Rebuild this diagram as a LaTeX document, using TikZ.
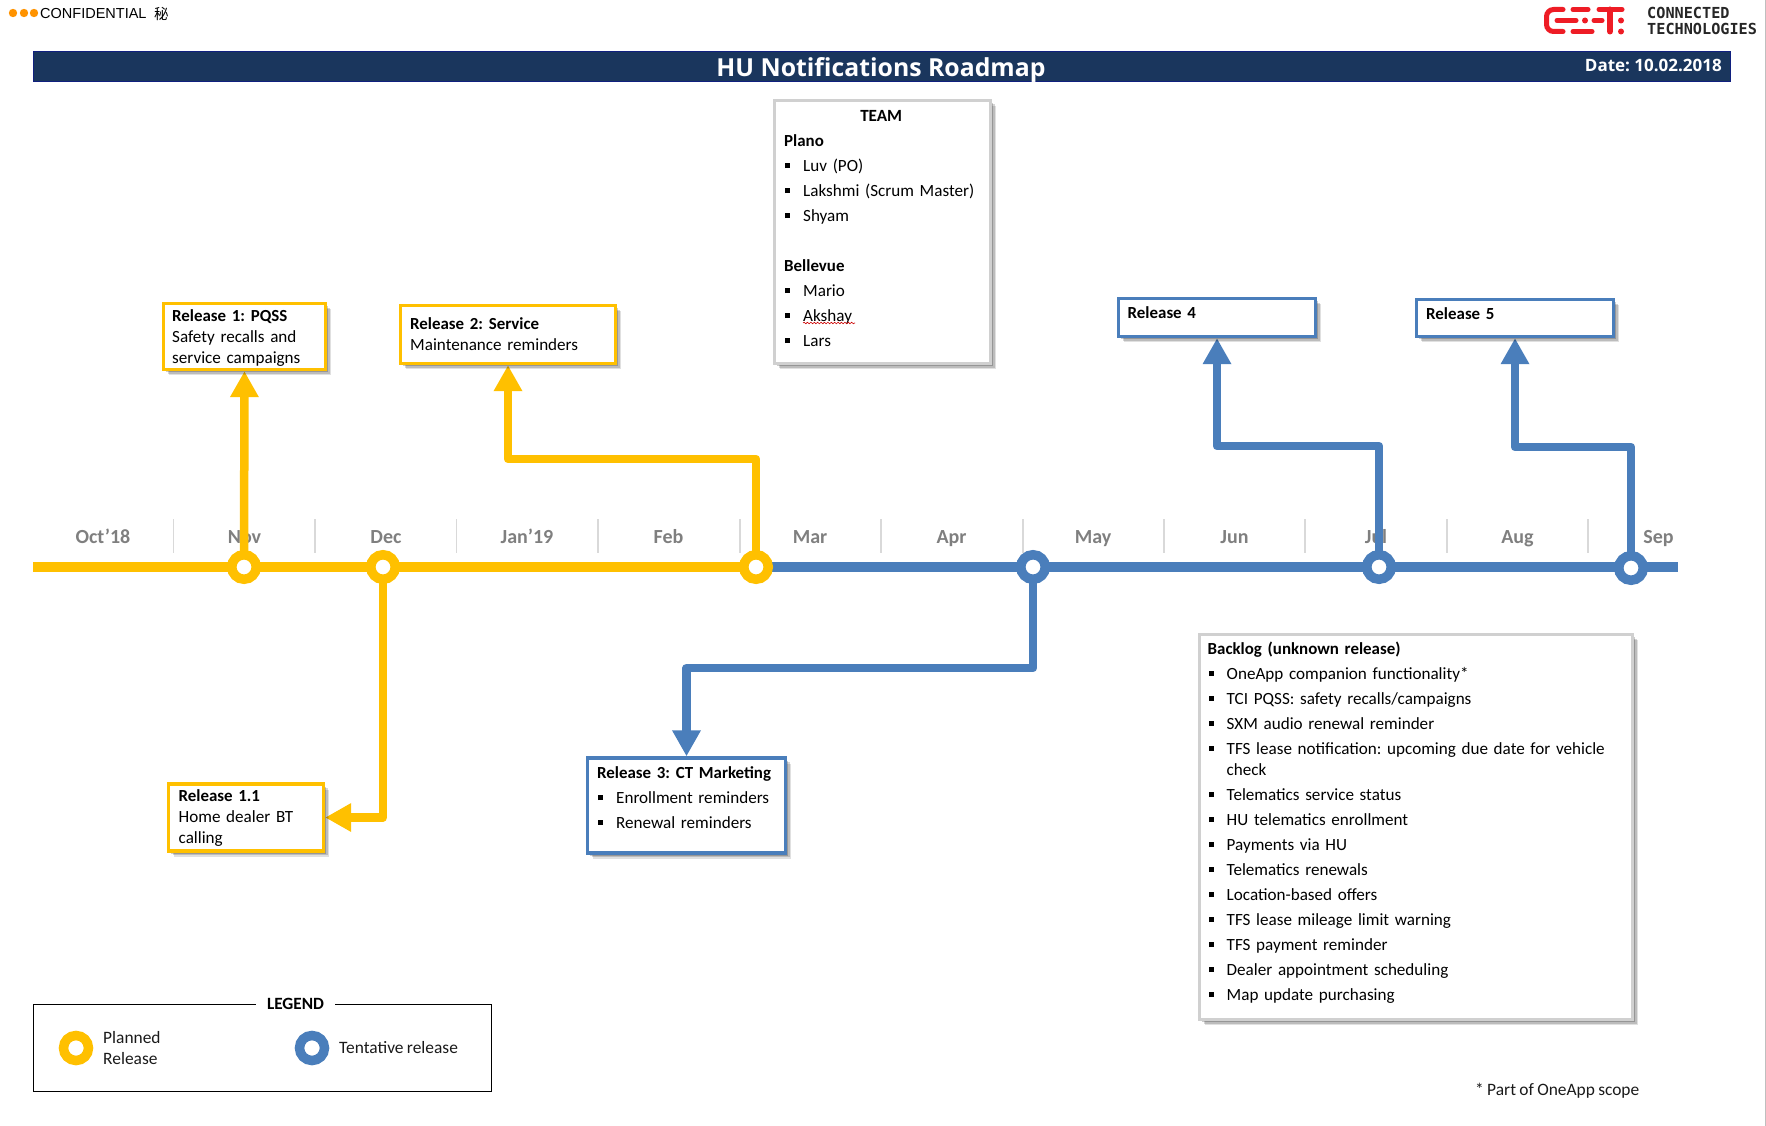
\documentclass[tikz,border=0pt]{standalone}
\usepackage{fontspec}
\setmainfont{Carlito}[WordSpace=0.85]
\frenchspacing
\newfontfamily\arialf{Liberation Sans}
\newfontfamily\cjkf{Noto Sans CJK SC}
\newfontfamily\logof{DejaVu Sans Mono}
\newfontfamily\headf{Open Sans}
\usetikzlibrary{arrows.meta,shadows,backgrounds,decorations.pathmorphing}
\definecolor{relyellow}{HTML}{FFC000}
\definecolor{relblue}{HTML}{4A7EBB}
\definecolor{headnavy}{HTML}{1A365D}
\definecolor{monthgrey}{HTML}{7F7F7F}
\definecolor{tickgrey}{HTML}{D9D9D9}
\definecolor{teamgrey}{HTML}{D0D0D0}
\definecolor{logored}{HTML}{EE1C25}
\definecolor{inktext}{HTML}{1A1A1A}
\newcommand{\blt}[1]{\par\hangindent=19pt\hangafter=1\noindent\makebox[19pt][l]{\hspace{1pt}\raisebox{3.5pt}{\rule{5pt}{5pt}}}#1}
\newcommand{\hd}[1]{\par\noindent{\fontsize{16.9}{21}\selectfont\textbf{#1}}}
\newcommand{\pln}[1]{\par\noindent #1}
\tikzset{
  x=1pt,y=-1pt,
  softshadow/.style={
    general shadow={shadow xshift=5.5pt,shadow yshift=-5.5pt,opacity=.12,fill=black},
    general shadow={shadow xshift=4pt,shadow yshift=-4pt,opacity=.16,fill=black},
    general shadow={shadow xshift=2.5pt,shadow yshift=-2.5pt,opacity=.2,fill=black}},
  relbox/.style={draw=#1,line width=3.4pt,fill=white,inner sep=0pt,outer sep=auto,softshadow},
  ring/.style={circle,draw=#1,line width=9.5pt,fill=white,minimum size=24.5pt,inner sep=0pt,outer sep=0pt},
  bodytext/.style={anchor=north west,inner sep=0pt,align=left,text=black,
    font=\fontsize{17.1}{21}\selectfont,text width=#1},
  plainlabel/.style={inner sep=0pt,text=inktext,font=\fontsize{17.4}{21}\selectfont,align=left},
  month/.style={anchor=base,inner sep=0pt,text=monthgrey,font=\fontsize{20}{22}\selectfont\bfseries},
  conn/.style={draw=#1,line width=8.5pt,line join=round,-{Triangle[width=27pt,length=26pt]}},
  rail/.style={draw=#1,line width=9.5pt},
  tick/.style={draw=tickgrey,line width=1.5pt},
  logostroke/.style={draw=logored,line width=5pt,line cap=round},
  logodot/.style={circle,fill=logored,inner sep=0pt,minimum size=6pt},
}
\begin{document}
\begin{tikzpicture}
\useasboundingbox (0,0) rectangle (1766,1126);
% right page edge
\draw[draw=black!25,line width=1pt] (1765,0) -- (1765,1126);

% confidential mark
\foreach \cx in {13,24,34}{\fill[orange!85!yellow] (\cx,13) circle (4.2);}
\node[anchor=west,inner sep=0pt,text=black,font=\arialf\fontsize{14.5}{16}\selectfont] (conf) at (40,13.5) {CONFIDENTIAL};
\node[anchor=west,inner sep=0pt,text=black,font=\cjkf\fontsize{14.5}{16}\selectfont] (secret) at (154,13.5) {秘};

% logo
\draw[logostroke,rounded corners=7pt] (1563,9.5) -- (1546.5,9.5) -- (1546.5,31.5) -- (1563,31.5);
\draw[logostroke] (1557,20.5) -- (1576,20.5);
\draw[logostroke] (1573,9.5) -- (1588,9.5);
\draw[logostroke] (1573,31.5) -- (1592,31.5);
\draw[logostroke] (1594,20.5) -- (1602,20.5);
\draw[logostroke] (1599,9.5) -- (1622,9.5);
\draw[logored,line width=6pt,line cap=round] (1610,9.5) -- (1610,31.5);
\node[logodot] (ld0) at (1585,20.5) {};
\node[logodot] (ld1) at (1621,20.5) {};
\node[logodot] (ld2) at (1621,31.5) {};
\node[anchor=west,inner sep=0pt,text=black!85,font=\logof\bfseries\fontsize{15.2}{17}\selectfont] (lg1) at (1647,13) {CONNECTED};
\node[anchor=west,inner sep=0pt,text=black!85,font=\logof\bfseries\fontsize{15.2}{17}\selectfont] (lg2) at (1647,29) {TECHNOLOGIES};

% header
\node[draw=black!30!blue!40!headnavy,line width=.8pt,fill=headnavy,inner sep=0pt,minimum width=1697pt,minimum height=30pt] (header) at (881.5,66) {};
\node[text=white,inner sep=0pt,font=\headf\bfseries\fontsize{24.8}{28}\selectfont] (title) at (881,70) {HU Notifications Roadmap};
\node[anchor=east,text=white,inner sep=0pt,font=\headf\bfseries\fontsize{17}{19}\selectfont] (date) at (1722,65) {Date: 10.02.2018};

% rings
\node[ring=relyellow] (mNov) at (244,567) {};
\node[ring=relyellow] (mDec) at (383,567) {};
\node[ring=relyellow] (mMar) at (756,567) {};
\node[ring=relblue] (mApr) at (1033,567) {};
\node[ring=relblue] (mJul) at (1379,567) {};
\node[ring=relblue] (mSep) at (1631,568) {};
\coordinate (railStart) at (33,567);
\coordinate (railEnd) at (1678,567);

% release boxes
\node[relbox=relyellow,minimum width=162pt,minimum height=66pt] (r1) at (244.5,336.5) {};
\node[bodytext=150pt] (r1t) at (172,300) {\hd{Release 1: PQSS}\pln{Safety recalls and}\pln{service campaigns}};
\node[relbox=relyellow,minimum width=215pt,minimum height=58pt] (r2) at (508,334.5) {};
\node[bodytext=200pt] (r2t) at (410,308) {\hd{Release 2: Service}\pln{Maintenance reminders}};
\node[relbox=relyellow,minimum width=155pt,minimum height=67pt] (r11) at (246,817.5) {};
\node[bodytext=145pt] (r11t) at (178.5,780) {\hd{Release 1.1}\pln{Home dealer BT}\pln{calling}};
\node[relbox=relblue,minimum width=198pt,minimum height=95pt] (r3) at (686.5,805.5) {};
\node[bodytext=180pt,font=\fontsize{17.1}{24.7}\selectfont] (r3t) at (597,754) {\hd{Release 3: CT Marketing}\blt{Enrollment reminders}\blt{Renewal reminders}};
\node[relbox=relblue,minimum width=197pt,minimum height=38pt] (r4) at (1217,317.5) {};
\node[bodytext=150pt] (r4t) at (1127.5,297) {\hd{Release 4}};
\node[relbox=relblue,minimum width=197pt,minimum height=37pt] (r5) at (1515,318) {};
\node[bodytext=150pt] (r5t) at (1426,298) {\hd{Release 5}};

% team
\node[relbox=teamgrey,minimum width=216pt,minimum height=263pt] (team) at (882.5,232) {};
\node[bodytext=200pt,font=\fontsize{17.1}{25}\selectfont] (teamt) at (784,96.5) {\par\noindent\makebox[194pt][c]{\textbf{TEAM}}\hd{Plano}\blt{Luv (PO)}\blt{Lakshmi (Scrum Master)}\blt{Shyam}\par\noindent\mbox{}\hd{Bellevue}\blt{Mario}\blt{Akshay}\blt{Lars}};
\coordinate (sqA) at (803,323);
\coordinate (sqB) at (855,323);
\draw[red!80!black,line width=.6pt,decorate,decoration={snake,amplitude=.8pt,segment length=3.4pt}] (sqA) -- (sqB);

% backlog
\node[relbox=teamgrey,minimum width=433pt,minimum height=385pt] (backlog) at (1416,827) {};
\node[bodytext=415pt,font=\fontsize{17.1}{21.5}\selectfont] (blt) at (1207.5,629) {\setlength{\parskip}{3.5pt}\hd{Backlog (unknown release)}\blt{OneApp companion functionality*}\blt{TCI PQSS: safety recalls/campaigns}\blt{SXM audio renewal reminder}\blt{TFS lease notification: upcoming due date for vehicle\newline check}\blt{Telematics service status}\blt{HU telematics enrollment}\blt{Payments via HU}\blt{Telematics renewals}\blt{Location-based offers}\blt{TFS lease mileage limit warning}\blt{TFS payment reminder}\blt{Dealer appointment scheduling}\blt{Map update purchasing}};

% footnote
\node[plainlabel,anchor=west] (fn) at (1475,1091) {* Part of OneApp scope};

% legend
\node[draw=black,line width=.9pt,inner sep=0pt,minimum width=458pt,minimum height=87pt,outer sep=0pt] (legend) at (262,1047.5) {};
\node[fill=white,inner sep=0pt,minimum width=79pt,minimum height=20pt,font=\fontsize{17.2}{20}\selectfont\bfseries,text=black] (legt) at (295.5,1004) {LEGEND};
\node[ring=relyellow,line width=9.5pt,minimum size=25pt] (lgP) at (76,1048) {};
\node[ring=relblue,line width=9.5pt,minimum size=25pt] (lgT) at (312,1048) {};
\node[plainlabel,anchor=west] (lgPt) at (103,1048) {Planned\\Release};
\node[plainlabel,anchor=west] (lgTt) at (339,1048) {Tentative release};

% timeline, labels and connectors behind the rings
\begin{scope}[on background layer]
\foreach \tx in {173.5,315,456.5,598,740,881,1023,1164,1305,1447,1588}{\draw[tick] (\tx,519) -- (\tx,553);}
\node[month] (l1) at (103,543) {Oct’18};
\node[month] (l2) at (244.5,543) {Nov};
\node[month] (l3) at (386,543) {Dec};
\node[month] (l4) at (527,543) {Jan’19};
\node[month] (l5) at (668.5,543) {Feb};
\node[month] (l6) at (810,543) {Mar};
\node[month] (l7) at (951.5,543) {Apr};
\node[month] (l8) at (1093,543) {May};
\node[month] (l9) at (1234.5,543) {Jun};
\node[month] (l10) at (1376,543) {Jul};
\node[month] (l11) at (1517.5,543) {Aug};
\node[month] (l12) at (1658.5,543) {Sep};
\draw[rail=relyellow] (railStart) -- (mMar.center);
\draw[rail=relblue] (mMar.center) -- (railEnd);
\draw[conn=relyellow] (mNov.center) -- (r1.south);
\draw[conn=relyellow] (mMar.center) -- (mMar.center |- 0,459) -- (r2.south |- 0,459) -- (r2.south);
\draw[conn=relyellow] (mDec.center) -- (mDec.center |- r11.east) -- (r11.east);
\draw[conn=relblue] (mApr.center) -- (mApr.center |- 0,668) -- (r3.north |- 0,668) -- (r3.north);
\draw[conn=relblue] (mJul.center) -- (mJul.center |- 0,446) -- (r4.south |- 0,446) -- (r4.south);
\draw[conn=relblue] (mSep.center) -- (mSep.center |- 0,447) -- (r5.south |- 0,447) -- (r5.south);
\end{scope}
\end{tikzpicture}
\end{document}
